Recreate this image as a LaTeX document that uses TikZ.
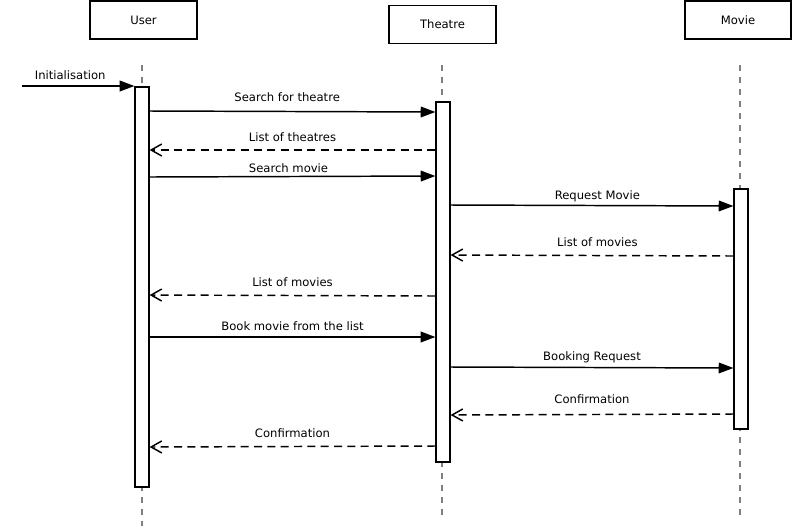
\documentclass[tikz,border=0pt]{standalone}
\usepackage{fontspec}
\setmainfont{DejaVu Sans}
\usepackage{tikz}
\usetikzlibrary{positioning,calc,arrows.meta}

\tikzset{
    actor/.style={draw, line width=1.4pt, minimum width=80pt, minimum height=28.5pt, inner sep=0pt, font=\fontsize{8.7}{10}\selectfont},
    actbar/.style={draw, line width=1.4pt, fill=white, minimum width=10pt, inner sep=0pt},
    lifeline/.style={draw=gray, line width=1.3pt, dash pattern=on 4.5pt off 4.5pt},
    call/.style={line width=1.1pt, -{Triangle[length=11pt,width=8pt]}},
    reply/.style={line width=1.1pt, dash pattern=on 6pt off 4pt, -{Straight Barb[length=8pt,width=9pt]}},
    msglabel/.style={above=2.5pt, font=\fontsize{8.7}{10}\selectfont}
}

\begin{document}
\begin{tikzpicture}[x=0.75pt,y=-0.75pt]
    \useasboundingbox (0,0) rectangle (793,526);

    % Actors
    \node[actor] (user) at (143.5,20) {User};
    \node[actor] (theatre) at (442.5,24.5) {Theatre};
    \node[actor] (movie) at (738,20) {Movie};

    % Lifelines
    \draw[lifeline] (142,65) -- (142,526);
    \draw[lifeline] (442,65) -- (442,520);
    \draw[lifeline] (740,65) -- (740,520);

    % Activation bars
    \node[actbar, minimum height=300pt] (ubar) at (142,287) {};
    \node[actbar, minimum height=270pt] (tbar) at (443,282) {};
    \node[actbar, minimum height=180pt] (mbar) at (741,309) {};

    % Messages
    \coordinate (start) at (22,86);
    \draw[call] (start) -- (ubar.west |- start) node[msglabel, midway, xshift=-6pt, yshift=-2pt] {Initialisation};
    \draw[call] (ubar.east |- 0,111) -- (tbar.west |- 0,112) node[msglabel, midway, xshift=-4pt, yshift=1pt] {Search for theatre};
    \draw[reply] (tbar.west |- 0,150) -- (ubar.east |- 0,150) node[msglabel, midway] {List of theatres};
    \draw[call] (ubar.east |- 0,177) -- (tbar.west |- 0,176) node[msglabel, midway, xshift=-3pt, yshift=-3.5pt] {Search movie};
    \draw[call] (tbar.east |- 0,205) -- (mbar.west |- 0,206) node[msglabel, midway, xshift=4pt, yshift=-4pt] {Request Movie};
    \draw[reply] (mbar.west |- 0,256) -- (tbar.east |- 0,255) node[msglabel, midway, xshift=4pt] {List of movies};
    \draw[reply] (tbar.west |- 0,296) -- (ubar.east |- 0,295) node[msglabel, midway] {List of movies};
    \draw[call] (ubar.east |- 0,337) -- (tbar.west |- 0,337) node[msglabel, midway, yshift=-1.5pt] {Book movie from the list};
    \draw[call] (tbar.east |- 0,367) -- (mbar.west |- 0,368) node[msglabel, midway, yshift=-3pt] {Booking Request};
    \draw[reply] (mbar.west |- 0,414) -- (tbar.east |- 0,415) node[msglabel, midway, yshift=1.5pt] {Confirmation};
    \draw[reply] (tbar.west |- 0,446) -- (ubar.east |- 0,447) node[msglabel, midway] {Confirmation};
\end{tikzpicture}
\end{document}
